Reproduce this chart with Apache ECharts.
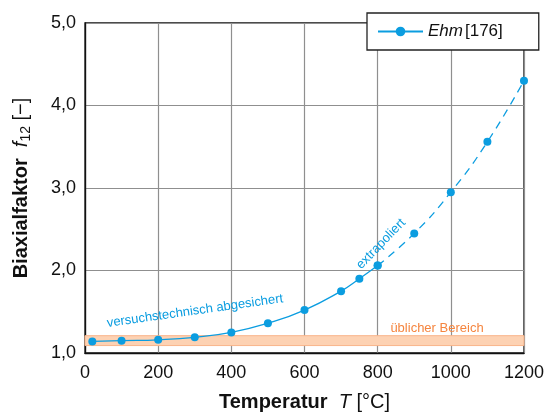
<!DOCTYPE html>
<html>
<head>
<meta charset="utf-8">
<script src="https://cdn.jsdelivr.net/npm/echarts@6/dist/echarts.min.js"></script>
<style>
  html, body { margin: 0; padding: 0; background: #fff; }
  #chart { width: 547px; height: 417px; }
</style>
</head>
<body>
<div id="chart"></div>
<script>
// Biaxial factor f12 over temperature (Ehm [176])
const measuredT = [20, 100, 200, 300, 400, 500, 600, 700, 750, 800];
const measuredF = [1.14, 1.15, 1.16, 1.19, 1.25, 1.36, 1.52, 1.75, 1.90, 2.06];
const extrapT = [800, 900, 1000, 1100, 1200];
const extrapF = [2.06, 2.45, 2.95, 3.56, 4.30];
const usualRange = [1.09, 1.21];
const xTicks = [0, 200, 400, 600, 800, 1000, 1200];
const yTicks = [1, 2, 3, 4, 5];
const seriesName = 'Ehm [176]';

const blue = '#0b9de0';
const orange = '#f5853f';
const font = 'Liberation Sans, Arial, Helvetica, sans-serif';

const chart = echarts.init(document.getElementById('chart'), null, { renderer: 'canvas' });

const pair = (xs, ys) => xs.map((x, i) => [x, ys[i]]);

chart.setOption({
  animation: false,
  backgroundColor: '#fff',
  textStyle: { fontFamily: font },
  grid: {
    left: 85, right: 22, top: 23, bottom: 59.5,
    show: true, borderColor: '#111', borderWidth: 1.3, backgroundColor: 'transparent'
  },
  legend: {
    left: 367, top: 13,
    padding: [10, 36, 10, 10],
    backgroundColor: '#fff',
    borderColor: '#222', borderWidth: 1.3,
    itemWidth: 45, itemHeight: 12, itemGap: 6,
    data: [seriesName],
    formatter: () => '{i|Ehm}{n|[176]}',
    textStyle: {
      fontFamily: font, fontSize: 17, color: '#111',
      rich: {
        i: { fontStyle: 'italic', fontSize: 17, fontFamily: font, color: '#111', padding: [0, 2, 0, 0] },
        n: { fontSize: 17, fontFamily: font, color: '#111' }
      }
    }
  },
  xAxis: {
    type: 'value', min: xTicks[0], max: xTicks[xTicks.length - 1], interval: 200,
    axisLine: { show: true, lineStyle: { color: '#111', width: 1.3 } },
    axisTick: { show: false },
    splitLine: { show: true, lineStyle: { color: '#8f8f8f', width: 1.2 } },
    axisLabel: { fontSize: 18, color: '#111', fontFamily: font, margin: 11, formatter: v => String(v) },
    name: '{b|Temperatur  }{i|T }{n|[°C]}',
    nameLocation: 'middle', nameGap: 39,
    nameTextStyle: {
      rich: {
        b: { fontSize: 20, fontWeight: 'bold', fontFamily: font, color: '#111' },
        i: { fontSize: 20, fontStyle: 'italic', fontFamily: font, color: '#111' },
        n: { fontSize: 20, fontFamily: font, color: '#111' }
      }
    }
  },
  yAxis: {
    type: 'value', min: yTicks[0], max: yTicks[yTicks.length - 1], interval: 1,
    axisLine: { show: true, lineStyle: { color: '#111', width: 1.3 } },
    axisTick: { show: false },
    splitLine: { show: true, lineStyle: { color: '#8f8f8f', width: 1.2 } },
    axisLabel: {
      fontSize: 18, color: '#111', fontFamily: font, margin: 9,
      formatter: v => v.toFixed(1).replace('.', ',')
    },
    name: '{b|Biaxialfaktor  }{i|f}{s|12}{n| [−]}',
    nameLocation: 'middle', nameGap: 52, nameRotate: 90,
    nameTextStyle: {
      rich: {
        b: { fontSize: 20, fontWeight: 'bold', fontFamily: font, color: '#111', lineHeight: 24 },
        i: { fontSize: 20, fontStyle: 'italic', fontFamily: font, color: '#111', lineHeight: 24 },
        s: { fontSize: 14, fontFamily: font, color: '#111', verticalAlign: 'bottom', lineHeight: 16 },
        n: { fontSize: 20, fontFamily: font, color: '#111', lineHeight: 24 }
      }
    }
  },
  series: [
    {
      name: seriesName, type: 'line',
      data: pair(measuredT, measuredF),
      smooth: 0.5,
      symbol: 'circle', symbolSize: 8,
      itemStyle: { color: blue },
      lineStyle: { color: blue, width: 1.3 },
      z: 5,
      markArea: {
        silent: true,
        itemStyle: { color: '#fdd2b3', borderColor: '#f9b58a', borderWidth: 1 },
        data: [[
          { xAxis: xTicks[0], yAxis: usualRange[0] },
          { xAxis: xTicks[xTicks.length - 1], yAxis: usualRange[1] }
        ]]
      }
    },
    {
      name: seriesName, type: 'line',
      data: pair(extrapT, extrapF),
      smooth: 0.5,
      symbol: 'circle', symbolSize: 8,
      itemStyle: { color: blue },
      lineStyle: { color: blue, width: 1.3, type: [8, 6] },
      z: 5
    }
  ],
  graphic: [
    {
      type: 'text', x: 195, y: 311, rotation: 8 * Math.PI / 180, z: 10,
      style: { text: 'versuchstechnisch abgesichert', fill: blue, font: '13px ' + font, align: 'center', verticalAlign: 'middle' }
    },
    {
      type: 'text', x: 381, y: 244, rotation: 46 * Math.PI / 180, z: 10,
      style: { text: 'extrapoliert', fill: blue, font: '13px ' + font, align: 'center', verticalAlign: 'middle' }
    },
    {
      type: 'text', x: 437, y: 328, z: 10,
      style: { text: 'üblicher Bereich', fill: orange, font: '13px ' + font, align: 'center', verticalAlign: 'middle' }
    }
  ]
});
</script>
</body>
</html>
